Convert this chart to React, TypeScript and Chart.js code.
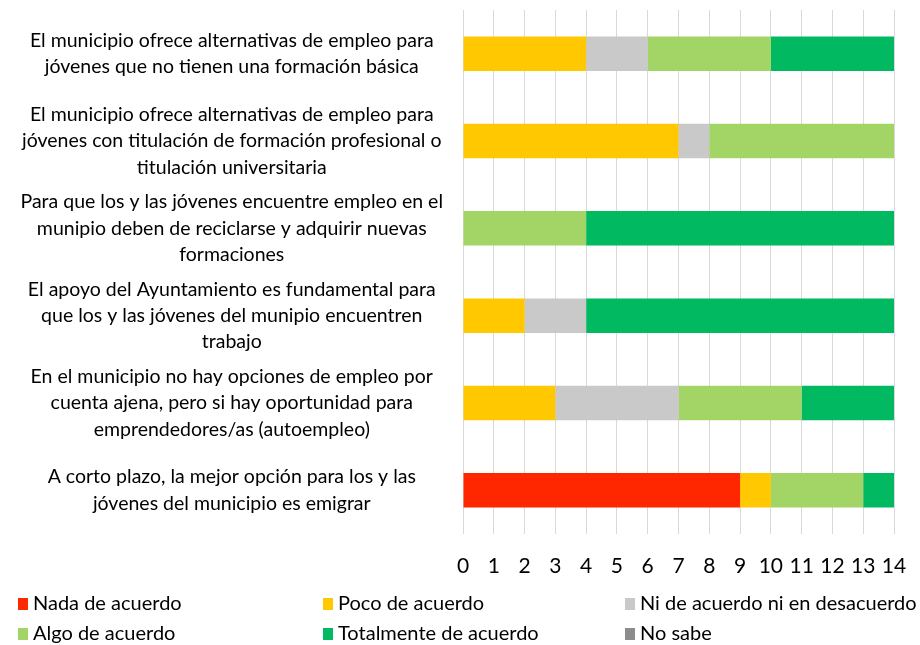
import React, { useEffect, useRef } from "react";
import { Chart, registerables } from "chart.js";

Chart.register(...registerables);

const categories: string[][] = [
  ["El municipio ofrece alternativas de empleo para", "jóvenes que no tienen una formación básica"],
  ["El municipio ofrece alternativas de empleo para", "jóvenes con titulación de formación profesional o", "titulación universitaria"],
  ["Para que los y las jóvenes encuentre empleo en el", "munipio deben de reciclarse y adquirir nuevas", "formaciones"],
  ["El apoyo del Ayuntamiento es fundamental para", "que los y las jóvenes del munipio encuentren", "trabajo"],
  ["En el municipio no hay opciones de empleo por", "cuenta ajena, pero si hay oportunidad para", "emprendedores/as (autoempleo)"],
  ["A corto plazo, la mejor opción para los y las", "jóvenes del municipio es emigrar"],
];

const seriesNames = [
  "Nada de acuerdo",
  "Poco de acuerdo",
  "Ni de acuerdo ni en desacuerdo",
  "Algo de acuerdo",
  "Totalmente de acuerdo",
  "No sabe",
];

const nada = [0, 0, 0, 0, 0, 9];
const poco = [4, 7, 0, 2, 3, 1];
const ni = [2, 1, 0, 2, 4, 0];
const algo = [4, 6, 4, 0, 4, 3];
const totalmente = [4, 0, 10, 10, 3, 1];
const noSabe = [0, 0, 0, 0, 0, 0];

const seriesColors = ["#FF2700", "#FFC800", "#C9C9C9", "#A2D565", "#00B960", "#8C8C8C"];

const xTicks = [0, 1, 2, 3, 4, 5, 6, 7, 8, 9, 10, 11, 12, 13, 14];

const FONT = "Lato, 'Open Sans', sans-serif";

const legendPlugin = {
  id: "gridLegend",
  afterDraw(chart: any) {
    const ctx = chart.ctx;
    const cols = [18, 323, 625];
    const rows = [604, 634];
    ctx.save();
    ctx.font = `20px ${FONT}`;
    ctx.textBaseline = "middle";
    ctx.textAlign = "left";
    chart.data.datasets.forEach((ds: any, i: number) => {
      const x = cols[i % 3];
      const y = rows[Math.floor(i / 3)];
      ctx.fillStyle = ds.backgroundColor;
      ctx.fillRect(x, y - 6, 10, 12);
      ctx.fillStyle = "#000";
      ctx.fillText(ds.label, x + 15, y);
    });
    ctx.restore();
  },
};

export default function App() {
  const ref = useRef<HTMLCanvasElement | null>(null);
  useEffect(() => {
    if (!ref.current) return;
    const values = [nada, poco, ni, algo, totalmente, noSabe];
    const chart = new Chart(ref.current, {
      type: "bar",
      data: {
        labels: categories,
        datasets: values.map((v, i) => ({
          label: seriesNames[i],
          data: v,
          backgroundColor: seriesColors[i],
          borderWidth: 0,
          categoryPercentage: 1,
          barPercentage: 0.395,
        })),
      },
      options: {
        indexAxis: "y",
        animation: false,
        responsive: true,
        maintainAspectRatio: false,
        layout: { padding: { top: 10, right: 26, bottom: 0, left: 0 } },
        plugins: {
          legend: { display: false },
          tooltip: { enabled: false },
        },
        scales: {
          x: {
            stacked: true,
            min: 0,
            max: 14,
            afterFit: (s: any) => {
              s.height = 111;
              s.paddingLeft = 0;
              s.paddingRight = 0;
            },
            afterBuildTicks: (s: any) => {
              s.ticks = xTicks.map((v) => ({ value: v }));
            },
            grid: { color: "#D9D9D9", lineWidth: 1, drawTicks: false },
            border: { display: false },
            ticks: {
              padding: 20,
              color: "#000",
              font: { family: FONT, size: 21 },
            },
          },
          y: {
            stacked: true,
            afterFit: (s: any) => {
              s.width = 463;
              s.paddingTop = 0;
              s.paddingBottom = 0;
            },
            grid: { display: false, drawTicks: false },
            border: { display: false },
            ticks: {
              padding: 20,
              crossAlign: "center",
              color: "#000",
              font: { family: FONT, size: 19.5, lineHeight: 1.35 },
            },
          },
        },
      },
      plugins: [legendPlugin],
    });
    return () => chart.destroy();
  }, []);
  return (
    <div style={{ position: "fixed", left: 0, top: 0, width: 920, height: 645, background: "#fff" }}>
      <canvas ref={ref} />
    </div>
  );
}
